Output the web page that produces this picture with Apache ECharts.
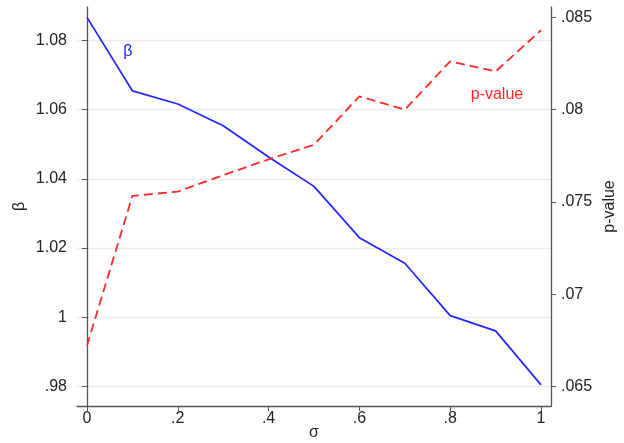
<!DOCTYPE html>
<html>
<head>
<meta charset="utf-8">
<script src="https://cdn.jsdelivr.net/npm/echarts@6/dist/echarts.min.js"></script>
<style>
html, body { margin: 0; padding: 0; background: #fff; }
#main { width: 624px; height: 443px; }
</style>
</head>
<body>
<div id="main"></div>
<script>
var sigma = [0, 0.1, 0.2, 0.3, 0.4, 0.5, 0.6, 0.7, 0.8, 0.9, 1];
var beta = [1.0866, 1.0654, 1.0616, 1.0553, 1.0463, 1.0378, 1.0230, 1.0156, 1.0005, 0.9961, 0.9805];
var pValue = [0.06722, 0.07533, 0.07556, 0.07645, 0.07731, 0.07810, 0.08072, 0.08000, 0.08262, 0.08207, 0.08430];
var xTicks = [0, 0.2, 0.4, 0.6, 0.8, 1];
var betaTicks = [0.98, 1, 1.02, 1.04, 1.06, 1.08];
var pTicks = [0.065, 0.07, 0.075, 0.08, 0.085];

var chart = echarts.init(document.getElementById('main'));

function fmt(v, d) {
    return String(+v.toFixed(d)).replace(/^0\./, '.');
}

function pairs(ys) {
    return sigma.map(function (x, i) { return [x, ys[i]]; });
}

var textStyle = { color: '#222', fontSize: 16, fontFamily: 'Liberation Sans' };
var axisLine = { show: true, lineStyle: { color: '#555', width: 1.3 } };

option = {
    animation: false,
    grid: { left: 77, right: 73, top: 7, bottom: 37, containLabel: false, outerBoundsMode: 'none' },
    xAxis: {
        type: 'value',
        min: -0.022,
        max: 1.022,
        name: 'σ',
        nameLocation: 'middle',
        nameGap: 19,
        nameMoveOverlap: false,
        nameTextStyle: textStyle,
        axisLine: axisLine,
        axisTick: { show: true, length: 5, customValues: xTicks, lineStyle: { color: '#555' } },
        axisLabel: Object.assign({ customValues: xTicks, margin: 5, formatter: function (v) { return fmt(v, 1); } }, textStyle),
        splitLine: { show: false }
    },
    yAxis: [
        {
            type: 'value',
            min: 0.9744,
            max: 1.0896,
            name: 'β',
            nameLocation: 'middle',
            nameRotate: 90,
            nameGap: 49,
            nameMoveOverlap: false,
            nameTextStyle: textStyle,
            axisLine: axisLine,
            axisTick: { show: true, length: 5, customValues: betaTicks, lineStyle: { color: '#555' } },
            axisLabel: Object.assign({ customValues: betaTicks, margin: 10, formatter: function (v) { return fmt(v, 2); } }, textStyle),
            splitLine: { show: true, lineStyle: { color: '#ebebeb', width: 1.3 } }
        },
        {
            type: 'value',
            position: 'right',
            min: 0.06395,
            max: 0.08556,
            name: 'p-value',
            nameLocation: 'middle',
            nameRotate: 90,
            nameGap: 51,
            nameMoveOverlap: false,
            nameTextStyle: textStyle,
            axisLine: axisLine,
            axisTick: { show: true, length: 5, customValues: pTicks, lineStyle: { color: '#555' } },
            axisLabel: Object.assign({ customValues: pTicks, margin: 10, formatter: function (v) { return fmt(v, 3); } }, textStyle),
            splitLine: { show: false }
        }
    ],
    series: [
        {
            name: 'β',
            type: 'line',
            yAxisIndex: 0,
            data: pairs(beta),
            showSymbol: false,
            lineStyle: { color: '#2424ff', width: 1.7 },
            markPoint: {
                symbol: 'circle',
                symbolSize: 0,
                label: { show: true, position: 'inside', formatter: 'β', color: '#2424ff', fontSize: 16, fontFamily: 'Liberation Sans' },
                data: [{ coord: [0.09, 1.0766] }]
            }
        },
        {
            name: 'p-value',
            type: 'line',
            yAxisIndex: 1,
            data: pairs(pValue),
            showSymbol: false,
            lineStyle: { color: '#ff2828', width: 1.8, type: [9, 5] },
            markPoint: {
                symbol: 'circle',
                symbolSize: 0,
                label: { show: true, position: 'inside', formatter: 'p-value', color: '#ff2828', fontSize: 16, fontFamily: 'Liberation Sans' },
                data: [{ coord: [0.903, 0.0808] }]
            }
        }
    ]
};
chart.setOption(option);
</script>
</body>
</html>
